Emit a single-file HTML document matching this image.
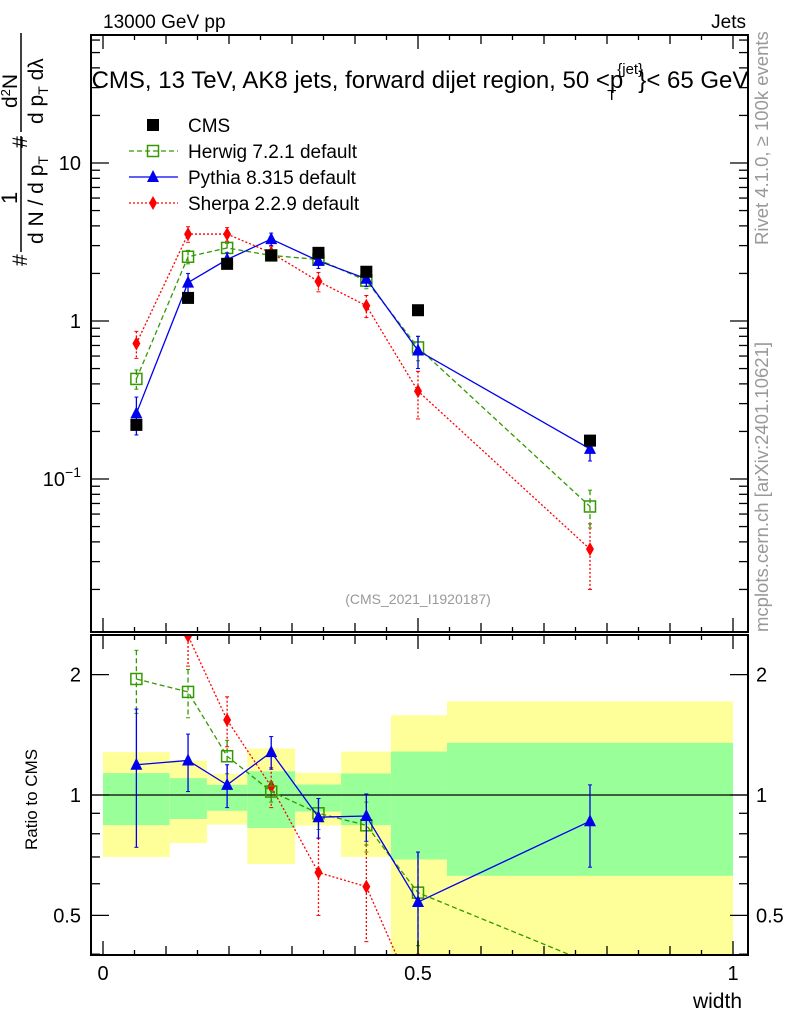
<!DOCTYPE html>
<html><head><meta charset="utf-8"><style>
html,body{margin:0;background:#fff;overflow:hidden;width:786px;height:1024px;}
svg{font-family:"Liberation Sans",Arial,sans-serif;display:block;}
</style></head><body>
<svg id="c" width="786" height="1024" viewBox="0 0 786 1024">
<text x="103" y="28" font-size="19">13000 GeV pp</text>
<text x="746" y="28" font-size="19" text-anchor="end">Jets</text>
<text x="420" y="88" font-size="24" text-anchor="middle">CMS, 13 TeV, AK8 jets, forward dijet region, 50 &lt;p<tspan font-size="15" dy="-14" dx="-6">{jet}</tspan><tspan font-size="15" dy="26" dx="-36">T</tspan><tspan dy="-12" dx="22">}&lt; 65 GeV</tspan></text>
<text transform="translate(768,245) rotate(-90)" font-size="18.5" fill="#999">Rivet 4.1.0, ≥ 100k events</text>
<text transform="translate(768,632) rotate(-90)" font-size="18.5" fill="#999">mcplots.cern.ch [arXiv:2401.10621]</text>
<text x="418" y="604" font-size="14" fill="#999" text-anchor="middle">(CMS_2021_I1920187)</text>
<g font-size="21">
<text transform="translate(27,266) rotate(-90)">#</text>
<line x1="21" x2="21" y1="252" y2="136" stroke="#000" stroke-width="1.5"/>
<text transform="translate(17,204) rotate(-90)" font-size="22">1</text>
<text transform="translate(43,244) rotate(-90)">d N / d p<tspan font-size="14" dy="5">T</tspan></text>
<text transform="translate(27,148) rotate(-90)">#</text>
<line x1="21" x2="21" y1="132" y2="33" stroke="#000" stroke-width="1.5"/>
<text transform="translate(17,108) rotate(-90)">d<tspan font-size="13" dy="-7">2</tspan><tspan dy="7">N</tspan></text>
<text transform="translate(43,124) rotate(-90)">d p<tspan font-size="14" dy="5">T</tspan><tspan dy="-5"> d</tspan>λ</text>
</g>
<text transform="translate(37,850) rotate(-90)" font-size="17">Ratio to CMS</text>
<text x="742" y="1008" font-size="21" text-anchor="end">width</text>
<g id="g"></g>
</svg>
<script>
const binEdges=[0,0.106,0.165,0.229,0.305,0.378,0.457,0.546,1.0];
const xCenters=[0.053,0.135,0.197,0.267,0.342,0.418,0.5,0.773];
const cmsVals=[0.22,1.4,2.3,2.6,2.7,2.05,1.17,0.175];
const herwigVals=[0.43,2.55,2.9,2.6,2.45,1.8,0.68,0.067];
const herwigErr=[0.06,0.25,0.2,0.15,0.15,0.2,0.12,0.018];
const pythiaVals=[0.26,1.75,2.45,3.3,2.4,1.85,0.65,0.155];
const pythiaErr=[0.07,0.25,0.25,0.3,0.25,0.2,0.15,0.025];
const sherpaVals=[0.72,3.55,3.55,2.7,1.78,1.25,0.36,0.036];
const sherpaErr=[0.14,0.4,0.35,0.25,0.25,0.2,0.12,0.016];
const herwigRatio=[1.95,1.81,1.25,1.02,0.90,0.84,0.57,0.38];
const herwigRatioErr=[0.35,0.25,0.12,0.06,0.08,0.12,0.15,0.01];
const pythiaRatio=[1.19,1.22,1.06,1.28,0.88,0.886,0.54,0.86];
const pythiaRatioErr=[0.45,0.2,0.13,0.12,0.1,0.12,0.18,0.2];
const sherpaRatio=[3.3,2.5,1.54,1.05,0.64,0.59,0.3,0.2];
const sherpaRatioErr=[0.6,0.4,0.22,0.12,0.14,0.16,0.1,0.1];
const bandYellowHi=[1.28,1.219,1.13,1.307,1.136,1.284,1.583,1.715];
const bandYellowLo=[0.70,0.758,0.843,0.672,0.839,0.70,0.3,0.3];
const bandGreenHi=[1.134,1.102,1.06,1.146,1.062,1.132,1.284,1.35];
const bandGreenLo=[0.841,0.871,0.913,0.827,0.909,0.841,0.69,0.628];
const mainTicks=["10","1"];

const NS="http://www.w3.org/2000/svg";
const g=document.getElementById('g');
const L=91,R=748,MT=35,MB=632,RT=635,RB=955;
const X=v=>103+630*v;
const Y=v=>321-158*Math.log10(v);
const YR=v=>795-400*Math.log10(v);
function el(t,a,p){const e=document.createElementNS(NS,t);for(const k in a)e.setAttribute(k,a[k]);(p||g).appendChild(e);return e;}
const defs=el('defs',{});
const c1=el('clipPath',{id:'cm'},defs);el('rect',{x:L,y:MT,width:R-L,height:MB-MT},c1);
const c2=el('clipPath',{id:'cr'},defs);el('rect',{x:L,y:RT,width:R-L,height:RB-RT},c2);
const gm=el('g',{'clip-path':'url(#cm)'});


const gr=el('g',{'clip-path':'url(#cr)'});


for(let i=0;i<xCenters.length;i++){
 const x0=X(binEdges[i]),x1=X(binEdges[i+1]);
 const y=el('rect',{x:x0,y:YR(bandYellowHi[i]),width:x1-x0,height:YR(bandYellowLo[i])-YR(bandYellowHi[i]),fill:'#ffff99'},gr);
 
 
 const gg=el('rect',{x:x0,y:YR(bandGreenHi[i]),width:x1-x0,height:YR(bandGreenLo[i])-YR(bandGreenHi[i]),fill:'#99ff99'},gr);
 
 
}
el('line',{x1:L,x2:R,y1:YR(1),y2:YR(1),stroke:'#000','stroke-width':1.3},gr);
function marker(type,x,y,col,p){
 if(type==='sq')return el('rect',{x:x-6,y:y-6,width:12,height:12,fill:'#000'},p);
 if(type==='osq')return el('rect',{x:x-5.5,y:y-5.5,width:11,height:11,fill:'none',stroke:col,'stroke-width':1.5},p);
 if(type==='tri')return el('polygon',{points:`${x},${y-7} ${x-6},${y+5} ${x+6},${y+5}`,fill:col},p);
 return el('polygon',{points:`${x},${y-7} ${x-4},${y} ${x},${y+7} ${x+4},${y}`,fill:col},p);
}
function series(vals,errs,Yf,col,dash,type,p,name){
 const sg=el('g',{},p);
 
 
 if(col){
  el('polyline',{points:vals.map((v,i)=>X(xCenters[i])+','+Yf(v)).join(' '),fill:'none',stroke:col,'stroke-width':1.3,'stroke-dasharray':dash},sg);
  vals.forEach((v,i)=>{const x=X(xCenters[i]);const lo=Math.max(v-errs[i],1e-4);
   el('line',{x1:x,x2:x,y1:Yf(v+errs[i]),y2:Yf(lo),stroke:col,'stroke-width':1.3,'stroke-dasharray':dash},sg);
   el('line',{x1:x-2,x2:x+2,y1:Yf(v+errs[i]),y2:Yf(v+errs[i]),stroke:col},sg);
   el('line',{x1:x-2,x2:x+2,y1:Yf(lo),y2:Yf(lo),stroke:col},sg);});
 }
 vals.forEach((v,i)=>{const m=marker(type,X(xCenters[i]),Yf(v),col||'#000',sg);
  
  });
}
series(sherpaVals,sherpaErr,Y,'#ff0000','2,2','dia',gm,'sherpa-series');
series(herwigVals,herwigErr,Y,'#339900','5,3','osq',gm,'herwig-series');
series(pythiaVals,pythiaErr,Y,'#0000ee','','tri',gm,'pythia-series');
series(cmsVals,null,Y,null,'','sq',gm,'cms-data');
series(sherpaRatio,sherpaRatioErr,YR,'#ff0000','2,2','dia',gr,'sherpa-ratio');
series(herwigRatio,herwigRatioErr,YR,'#339900','5,3','osq',gr,'herwig-ratio');
series(pythiaRatio,pythiaRatioErr,YR,'#0000ee','','tri',gr,'pythia-ratio');
[[MT,MB,'main-frame'],[RT,RB,'ratio-frame']].forEach(([t,b,n])=>{
 const r=el('rect',{x:L,y:t,width:R-L,height:b-t,fill:'none',stroke:'#000','stroke-width':2});
 
 
 for(let k=0;k<=20;k++){const x=X(k*0.05);const len=k%10===0?14:(k%2===0?9:5);
  el('line',{x1:x,x2:x,y1:b,y2:b-len,stroke:'#000','stroke-width':1.3});
  el('line',{x1:x,x2:x,y1:t,y2:t+len,stroke:'#000','stroke-width':1.3});}
});
for(let d=-2;d<=1;d++){for(let m=1;m<10;m++){const v=m*Math.pow(10,d);const y=Y(v);if(y<MT||y>MB)continue;
 const len=m===1?18:9;
 el('line',{x1:L,x2:L+len,y1:y,y2:y,stroke:'#000','stroke-width':1.3});
 el('line',{x1:R,x2:R-len,y1:y,y2:y,stroke:'#000','stroke-width':1.3});}}
mainTicks.forEach(t=>{const tx=el('text',{x:L-10,y:Y(+t)+7,'font-size':20,'text-anchor':'end'});tx.textContent=t;
 
 });
{const tx=el('text',{x:L-10,y:Y(0.1)+7,'font-size':20,'text-anchor':'end'});tx.innerHTML='10<tspan font-size="14" dy="-9">−1</tspan>';
 
 }
[0.4,0.5,0.6,0.7,0.8,0.9,1,2].forEach(v=>{const y=YR(v);const len=(v===0.5||v===1||v===2)?18:9;
 el('line',{x1:L,x2:L+len,y1:y,y2:y,stroke:'#000','stroke-width':1.3});
 el('line',{x1:R,x2:R-len,y1:y,y2:y,stroke:'#000','stroke-width':1.3});});
[0.5,1,2].forEach(v=>{[[L-10,'end'],[R+8,'start']].forEach(([x,a])=>{
 const tx=el('text',{x:x,y:YR(v)+7,'font-size':20,'text-anchor':a});tx.textContent=String(v);
 
 });});
[0,0.5,1].forEach(v=>{const tx=el('text',{x:X(v),y:980,'font-size':20,'text-anchor':'middle'});tx.textContent=String(v);
 
 });
const leg=el('g',{});


const legItems=[['CMS',null,'','sq'],['Herwig 7.2.1 default','#339900','5,3','osq'],['Pythia 8.315 default','#0000ee','','tri'],['Sherpa 2.2.9 default','#ff0000','2,2','dia']];
legItems.forEach((it,i)=>{const y=125+i*26;
 const eg=el('g',{},leg);
 
 
 if(it[1])el('line',{x1:129,x2:178,y1:y,y2:y,stroke:it[1],'stroke-width':1.3,'stroke-dasharray':it[2]},eg);
 marker(it[3],153,y,it[1]||'#000',eg);
 const t=el('text',{x:188,y:y+7,'font-size':19},eg);t.textContent=it[0];});
</script>
</body></html>
